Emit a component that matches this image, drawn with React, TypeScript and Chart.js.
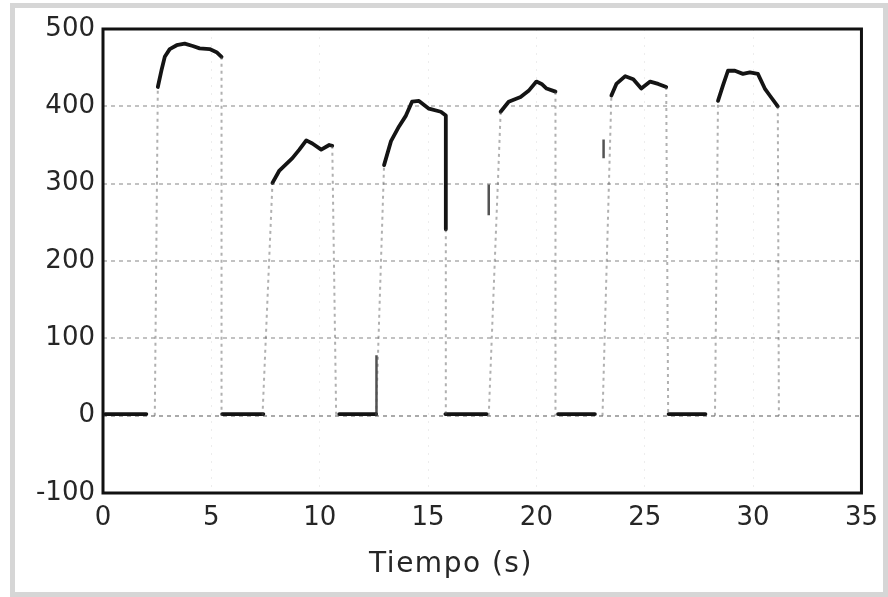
import React, { useEffect, useRef } from "react";
import { Chart, registerables } from "chart.js";

Chart.register(...registerables);

// Axis ranges / ticks
const xTicks = [0, 5, 10, 15, 20, 25, 30, 35];
const yTicks = [-100, 0, 100, 200, 300, 400, 500];
const xTitle = "Tiempo (s)";

// Baseline (off) segments: start and end times, level
const baselineStarts = [0.1, 5.5, 10.9, 15.8, 21.0, 26.1];
const baselineEnds = [2.0, 7.4, 12.6, 17.7, 22.7, 27.8];
const baselineLevel = 2;

// Pulse tops
const pulse1T = [2.53, 2.71, 2.85, 3.08, 3.4, 3.77, 4.14, 4.46, 4.92, 5.24, 5.47];
const pulse1V = [425, 448, 464, 474, 479, 481, 478, 475, 474, 470, 464];
const pulse2T = [7.82, 8.14, 8.74, 9.06, 9.38, 9.66, 10.07, 10.44, 10.58];
const pulse2V = [301, 317, 333, 344, 356, 352, 344, 350, 349];
const pulse3T = [12.97, 13.29, 13.66, 13.98, 14.26, 14.58, 15.04, 15.59, 15.82, 15.82];
const pulse3V = [324, 355, 374, 388, 406, 407, 397, 393, 388, 241];
const pulse4T = [18.35, 18.72, 19.27, 19.64, 20.0, 20.24, 20.47, 20.88];
const pulse4V = [393, 406, 412, 420, 432, 429, 423, 419];
const pulse5T = [23.46, 23.69, 24.1, 24.47, 24.84, 25.25, 25.62, 25.99];
const pulse5V = [414, 429, 439, 435, 423, 432, 429, 425];
const pulse6T = [28.38, 28.61, 28.84, 29.16, 29.53, 29.85, 30.22, 30.54, 30.77, 31.14];
const pulse6V = [407, 427, 446, 446, 442, 444, 442, 423, 414, 400];

// Faint transition edges
const riseTimes = [2.39, 7.36, 12.6, 17.8, 23.05, 28.24];
const fallTimes = [5.47, 10.76, 15.82, 20.88, 26.08, 31.19];

// Darker fragments visible on the rising edges
const darkEdgeT = [12.62, 17.8, 23.1];
const darkEdgeFrom = [0, 259, 333];
const darkEdgeTo = [78, 299, 357];

type P = { x: number; y: number | null };

const joinPieces = (pieces: P[][]): P[] =>
  pieces.flatMap((p, i) => (i === 0 ? p : [{ x: p[0].x, y: null }, ...p]));

const FONT = "'DejaVu Sans', Verdana, sans-serif";

export default function App() {
  const ref = useRef<HTMLCanvasElement | null>(null);

  useEffect(() => {
    if (!ref.current) return;
    const pulsesT = [pulse1T, pulse2T, pulse3T, pulse4T, pulse5T, pulse6T];
    const pulsesV = [pulse1V, pulse2V, pulse3V, pulse4V, pulse5V, pulse6V];

    const solidPieces: P[][] = [];
    baselineStarts.forEach((s, i) => {
      solidPieces.push([
        { x: s, y: baselineLevel },
        { x: baselineEnds[i], y: baselineLevel },
      ]);
    });
    pulsesT.forEach((ts, i) => {
      solidPieces.push(ts.map((t, j) => ({ x: t, y: pulsesV[i][j] })));
    });

    const darkPieces: P[][] = darkEdgeT.map((t, i) => [
      { x: t, y: darkEdgeFrom[i] },
      { x: t, y: darkEdgeTo[i] },
    ]);

    const edgePieces: P[][] = [];
    pulsesT.forEach((ts, i) => {
      const vs = pulsesV[i];
      edgePieces.push([
        { x: riseTimes[i], y: 0 },
        { x: ts[0], y: vs[0] },
      ]);
      edgePieces.push([
        { x: ts[ts.length - 1], y: vs[vs.length - 1] },
        { x: fallTimes[i], y: 0 },
      ]);
    });

    const framePlugin = {
      id: "frame",
      afterDraw(chart: any) {
        const { ctx, chartArea } = chart;
        ctx.save();
        ctx.strokeStyle = "#111";
        ctx.lineWidth = 3;
        ctx.strokeRect(
          chartArea.left,
          chartArea.top,
          chartArea.right - chartArea.left,
          chartArea.bottom - chartArea.top
        );
        // axis title (slightly left of centre, as in the source)
        ctx.fillStyle = "#262626";
        ctx.font = `28px ${FONT}`;
        ctx.textAlign = "center";
        ctx.textBaseline = "middle";
        try {
          (ctx as any).letterSpacing = "1.5px";
        } catch (e) {}
        ctx.fillText(xTitle, 451, 565);
        try {
          (ctx as any).letterSpacing = "0px";
        } catch (e) {}
        ctx.restore();
      },
    };

    const tickFont = { family: FONT, size: 26 };

    const chart = new Chart(ref.current, {
      type: "line",
      data: {
        datasets: [
          {
            label: "Transiciones",
            data: joinPieces(edgePieces) as any,
            borderColor: "rgba(80,80,80,0.45)",
            borderWidth: 2,
            borderDash: [3, 4],
            pointRadius: 0,
            spanGaps: false,
            tension: 0,
          },
          {
            label: "Flancos",
            data: joinPieces(darkPieces) as any,
            borderColor: "rgba(40,40,40,0.8)",
            borderWidth: 2.5,
            pointRadius: 0,
            spanGaps: false,
            tension: 0,
          },
          {
            label: "Señal",
            data: joinPieces(solidPieces) as any,
            borderColor: "#141414",
            borderWidth: 3.8,
            borderCapStyle: "round",
            borderJoinStyle: "round",
            pointRadius: 0,
            spanGaps: false,
            tension: 0,
          },
        ],
      },
      options: {
        animation: false,
        responsive: false,
        maintainAspectRatio: false,
        layout: { padding: { top: 29, right: 24, left: 0, bottom: 0 } },
        plugins: {
          legend: { display: false },
          tooltip: { enabled: false },
        },
        scales: {
          x: {
            type: "linear",
            min: xTicks[0],
            max: xTicks[xTicks.length - 1],
            afterBuildTicks: (s: any) => {
              s.ticks = xTicks.map((v) => ({ value: v }));
            },
            afterFit: (s: any) => {
              s.height = 104;
            },
            ticks: {
              font: tickFont,
              color: "#262626",
              padding: 10,
              maxRotation: 0,
              autoSkip: false,
            },
            grid: {
              drawTicks: false,
              color: (c: any) =>
                c.tick && (c.tick.value === 0 || c.tick.value === 35)
                  ? "rgba(0,0,0,0)"
                  : "rgba(0,0,0,0.07)",
              lineWidth: 1,
            },
            border: { display: false, dash: [2, 6] },
            title: { display: false },
          },
          y: {
            type: "linear",
            min: yTicks[0],
            max: yTicks[yTicks.length - 1],
            afterBuildTicks: (s: any) => {
              s.ticks = yTicks.map((v) => ({ value: v }));
            },
            afterFit: (s: any) => {
              s.width = 103;
            },
            ticks: {
              font: tickFont,
              color: "#262626",
              padding: 8,
            },
            grid: {
              drawTicks: false,
              color: (c: any) => {
                const v = c.tick ? c.tick.value : null;
                if (v === -100 || v === 500) return "rgba(0,0,0,0)";
                if (v === 0) return "rgba(100,100,100,0.55)";
                return "rgba(110,110,110,0.42)";
              },
              lineWidth: 2,
            },
            border: { display: false, dash: [4, 4] },
          },
        },
      },
      plugins: [framePlugin],
    });
    return () => chart.destroy();
  }, []);

  return (
    <div style={{ position: "absolute", left: 0, top: 0, width: 888, height: 597, background: "#fff" }}>
      <div
        style={{
          position: "absolute",
          left: 10,
          top: 3,
          width: 878,
          height: 594,
          border: "5px solid #d6d6d6",
          boxSizing: "border-box",
        }}
      />
      <canvas
        ref={ref}
        width={888}
        height={597}
        style={{ position: "absolute", left: 0, top: 0, width: 888, height: 597 }}
      />
    </div>
  );
}
